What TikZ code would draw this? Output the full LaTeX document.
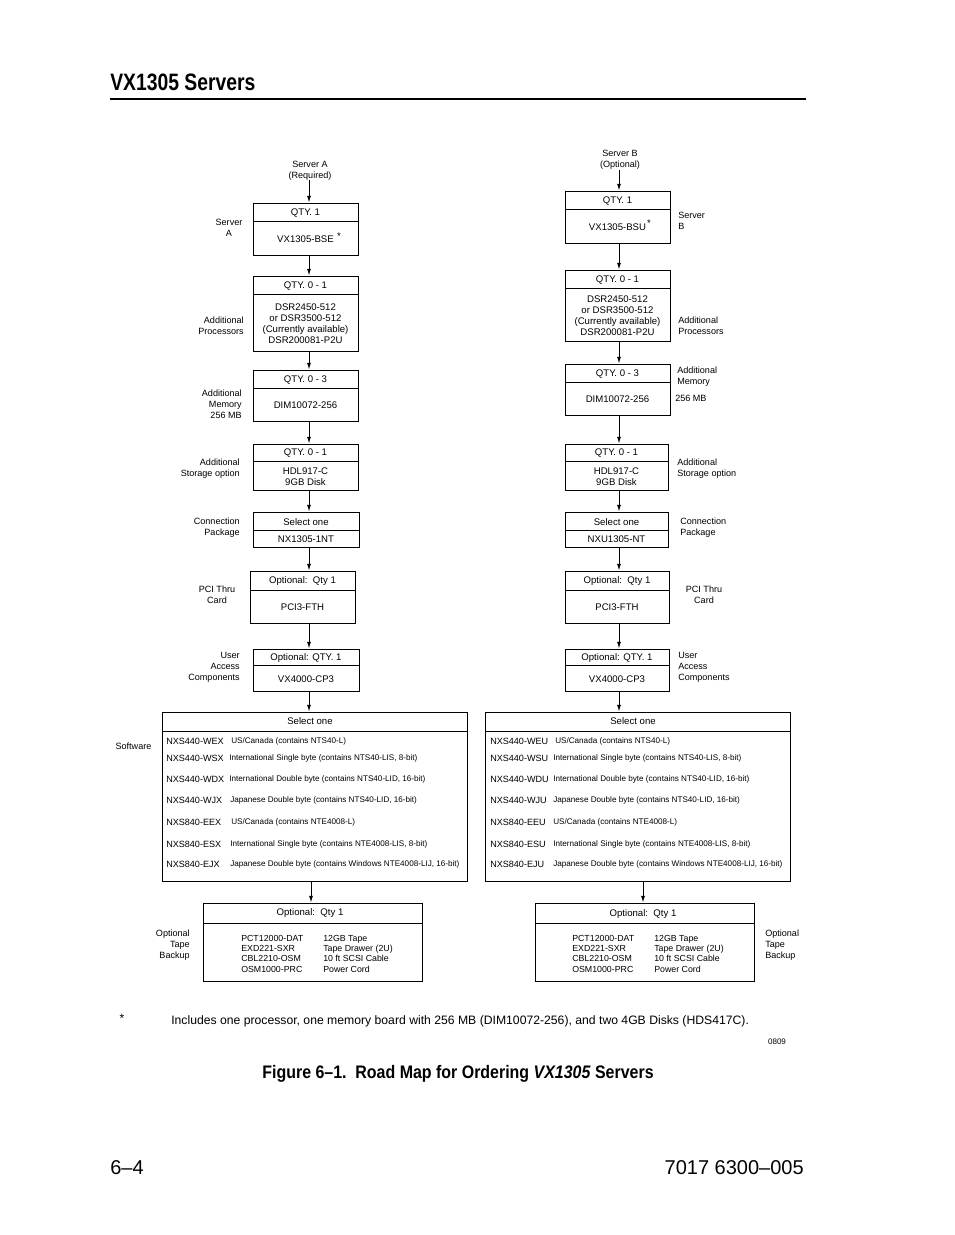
\documentclass[tikz,border=0pt]{standalone}
\usepackage{fontspec}
\setmainfont{Liberation Sans}
\newfontfamily\hdrfont[FakeStretch=0.815]{Liberation Sans}
\newfontfamily\capfont[FakeStretch=0.88]{Liberation Sans}
\newfontfamily\footfont[FakeStretch=1.0]{Liberation Sans}
\usetikzlibrary{arrows.meta,fit}

\tikzset{
  box/.style={draw, line width=0.7pt, inner sep=0pt},
  divl/.style={line width=0.55pt},
  btxt/.style={font=\fontsize{7.2}{8.25}\selectfont, align=center, inner sep=0pt},
  lbl/.style={font=\fontsize{6.8}{8.25}\selectfont, inner sep=0pt},
  code/.style={font=\fontsize{6.8}{8}\selectfont, anchor=west, inner sep=0pt},
  desc/.style={font=\fontsize{6.1}{7}\selectfont, anchor=west, inner sep=0pt},
  tape/.style={font=\fontsize{6.6}{7.75}\selectfont, anchor=west, inner sep=0pt, align=left},
  arr/.style={-{Latex[length=5pt,width=3pt]}, line width=0.7pt},
}

% name, x1, y1, x2, y2, ydiv, top text, bottom text
\newcommand\tbox[8]{%
  \node[box, fit={(#2,#3) (#4,#5)}] (#1) {};
  \draw[divl] (#2,#6) -- (#4,#6);
  \node[btxt] (#1t) at ({(#2+#4)/2},{(#3+#6)/2+0.8}) {#7};
  \node[btxt] (#1b) at ({(#2+#4)/2},{(#6+#5)/2+0.8}) {#8};
}
% name, x code, x desc, y, code, description
\newcommand\swrow[6]{%
  \node[code] (#1c) at (#2,#4) {#5};
  \node[desc] (#1d) at (#3,#4) {#6};
}

\begin{document}
\begin{tikzpicture}[x=0.75pt,y=-0.75pt]
\useasboundingbox (0,0) rectangle (954,1235);
\fill[white] (0,0) rectangle (954,1235);

% header
\node[anchor=base west, inner sep=0pt, font=\hdrfont\bfseries\fontsize{17.8}{20}\selectfont] (title) at (110,90) {VX1305 Servers};
\coordinate (r1) at (110,99);
\coordinate (r2) at (806,99);
\draw[line width=1.1pt] (r1) -- (r2);

% column coordinates
\coordinate (colA) at (309,0);
\coordinate (colA2) at (311,0);
\coordinate (colB) at (619,0);
\coordinate (colB2) at (643,0);

% ---------- left column (Server A) ----------
\node[lbl, align=center] (sAlab) at (310,170.5) {Server A\\(Required)};
\tbox{a1}{253}{203}{358}{255}{221}{QTY. 1}{VX1305-BSE}
\node[btxt] (a1s) at (339,236) {*};
\tbox{a2}{253}{276}{358}{351}{294}{QTY. 0 - 1}{DSR2450-512\\or DSR3500-512\\(Currently available)\\DSR200081-P2U}
\tbox{a3}{253}{370}{358}{421}{388}{QTY. 0 - 3}{DIM10072-256}
\tbox{a4}{253}{444}{358}{490}{461}{QTY. 0 - 1}{HDL917-C\\9GB Disk}
\tbox{a5}{253}{512}{359}{547}{530}{Select one}{NX1305-1NT}
\tbox{a6}{250}{571}{355}{623}{590}{Optional:\ \ Qty 1}{PCI3-FTH}
\tbox{a7}{253}{649}{359}{691}{665}{Optional: QTY. 1}{VX4000-CP3}

\node[box, fit={(162,712) (467,881)}] (sa) {};
\draw[divl] (162,731) -- (467,731);
\node[btxt] (sat) at (310,721) {Select one};
\swrow{sa1}{166}{231}{741}{NXS440-WEX}{US/Canada (contains NTS40-L)}
\swrow{sa2}{166}{229}{758.5}{NXS440-WSX}{International Single byte (contains NTS40-LIS, 8-bit)}
\swrow{sa3}{166}{229}{779}{NXS440-WDX}{International Double byte (contains NTS40-LID, 16-bit)}
\swrow{sa4}{166}{230}{800}{NXS440-WJX}{Japanese Double byte (contains NTS40-LID, 16-bit)}
\swrow{sa5}{166}{231}{822}{NXS840-EEX}{US/Canada (contains NTE4008-L)}
\swrow{sa6}{166}{230}{844}{NXS840-ESX}{International Single byte (contains NTE4008-LIS, 8-bit)}
\swrow{sa7}{166}{230}{864.5}{NXS840-EJX}{Japanese Double byte (contains Windows NTE4008-LIJ, 16-bit)}

\node[box, fit={(203,903) (422,981)}] (ta) {};
\draw[divl] (203,923) -- (422,923);
\node[btxt] (tat) at (310,913.5) {Optional:\ \ Qty 1};
\node[tape] (tac) at (241,953.5) {PCT12000-DAT\\EXD221-SXR\\CBL2210-OSM\\OSM1000-PRC};
\node[tape] (tad) at (323,953.5) {12GB Tape\\Tape Drawer (2U)\\10 ft SCSI Cable\\Power Cord};

% left labels
\node[lbl, align=center] (lA1) at (229,227.5) {Server\\A};
\node[lbl, align=right, anchor=east] (lA2) at (244,325.5) {Additional\\Processors};
\node[lbl, align=right, anchor=east] (lA3) at (242,404) {Additional\\Memory\\256 MB};
\node[lbl, align=right, anchor=east] (lA4) at (240,468.5) {Additional\\Storage option};
\node[lbl, align=right, anchor=east] (lA5) at (240,527.5) {Connection\\Package};
\node[lbl, align=center] (lA6) at (217,594.5) {PCI Thru\\Card};
\node[lbl, align=right, anchor=east] (lA7) at (240,667) {User\\Access\\Components};
\node[lbl] (lA8) at (133.5,746) {Software};
\node[lbl, align=right, anchor=east] (lA9) at (190,945) {Optional\\Tape\\Backup};

% left arrows
\draw[arr] (sAlab.south -| colA) -- (a1.north -| colA);
\foreach \u/\v in {a1/a2, a2/a3, a3/a4, a4/a5, a5/a6, a6/a7, a7/sa}
  \draw[arr] (\u.south -| colA) -- (\v.north -| colA);
\draw[arr] (sa.south -| colA2) -- (ta.north -| colA2);

% ---------- right column (Server B) ----------
\node[lbl, align=center] (sBlab) at (620,160) {Server B\\(Optional)};
\tbox{b1}{565}{191}{670}{243}{209}{QTY. 1}{VX1305-BSU}
\node[btxt] (b1s) at (649,223) {*};
\tbox{b2}{565}{270}{670}{341}{288}{QTY. 0 - 1}{DSR2450-512\\or DSR3500-512\\(Currently available)\\DSR200081-P2U}
\tbox{b3}{565}{364}{670}{415}{382}{QTY. 0 - 3}{DIM10072-256}
\tbox{b4}{565}{444}{668}{490}{461}{QTY. 0 - 1}{HDL917-C\\9GB Disk}
\tbox{b5}{565}{512}{668}{547}{530}{Select one}{NXU1305-NT}
\tbox{b6}{565}{571}{669}{623}{590}{Optional:\ \ Qty 1}{PCI3-FTH}
\tbox{b7}{565}{649}{669}{691}{665}{Optional: QTY. 1}{VX4000-CP3}

\node[box, fit={(485,712) (790,881)}] (sb) {};
\draw[divl] (485,731) -- (790,731);
\node[btxt] (sbt) at (633,721) {Select one};
\swrow{sb1}{490}{555}{741}{NXS440-WEU}{US/Canada (contains NTS40-L)}
\swrow{sb2}{490}{553}{758.5}{NXS440-WSU}{International Single byte (contains NTS40-LIS, 8-bit)}
\swrow{sb3}{490}{553}{779}{NXS440-WDU}{International Double byte (contains NTS40-LID, 16-bit)}
\swrow{sb4}{490}{553}{800}{NXS440-WJU}{Japanese Double byte (contains NTS40-LID, 16-bit)}
\swrow{sb5}{490}{553}{822}{NXS840-EEU}{US/Canada (contains NTE4008-L)}
\swrow{sb6}{490}{553}{844}{NXS840-ESU}{International Single byte (contains NTE4008-LIS, 8-bit)}
\swrow{sb7}{490}{553}{864.5}{NXS840-EJU}{Japanese Double byte (contains Windows NTE4008-LIJ, 16-bit)}

\node[box, fit={(535,903) (754,981)}] (tb) {};
\draw[divl] (535,923) -- (754,923);
\node[btxt] (tbt) at (643,914.5) {Optional:\ \ Qty 1};
\node[tape] (tbc) at (572,953.5) {PCT12000-DAT\\EXD221-SXR\\CBL2210-OSM\\OSM1000-PRC};
\node[tape] (tbd) at (654,953.5) {12GB Tape\\Tape Drawer (2U)\\10 ft SCSI Cable\\Power Cord};

% right labels
\node[lbl, align=left, anchor=west] (lB1) at (678,220.5) {Server\\B};
\node[lbl, align=left, anchor=west] (lB2) at (678,325.5) {Additional\\Processors};
\node[lbl, align=left, anchor=west] (lB3) at (677,376.5) {Additional\\Memory};
\node[lbl, anchor=west] (lB3b) at (675,398) {256 MB};
\node[lbl, align=left, anchor=west] (lB4) at (677,468.5) {Additional\\Storage option};
\node[lbl, align=left, anchor=west] (lB5) at (680,527.5) {Connection\\Package};
\node[lbl, align=center] (lB6) at (704,594.5) {PCI Thru\\Card};
\node[lbl, align=left, anchor=west] (lB7) at (678,667) {User\\Access\\Components};
\node[lbl, align=left, anchor=west] (lB9) at (765,945.5) {Optional\\Tape\\Backup};

% right arrows
\draw[arr] (sBlab.south -| colB) -- (b1.north -| colB);
\foreach \u/\v in {b1/b2, b2/b3, b3/b4, b4/b5, b5/b6, b6/b7, b7/sb}
  \draw[arr] (\u.south -| colB) -- (\v.north -| colB);
\draw[arr] (sb.south -| colB2) -- (tb.north -| colB2);

% footnote
\node[inner sep=0pt, font=\fontsize{9}{10}\selectfont] (fstar) at (122,1018) {*};
\node[anchor=west, inner sep=0pt, font=\fontsize{9.15}{10}\selectfont] (fnote) at (171,1021) {Includes one processor, one memory board with 256 MB (DIM10072-256), and two 4GB Disks (HDS417C).};
\node[inner sep=0pt, font=\fontsize{6}{7}\selectfont] (fig) at (777,1042) {0809};

% caption
\node[anchor=base, inner sep=0pt, font=\capfont\bfseries\fontsize{13.6}{15}\selectfont] (cap) at (458,1078) {Figure 6–1.\ \ Road Map for Ordering \textit{VX1305} Servers};

% footer
\node[anchor=base west, inner sep=0pt, font=\footfont\fontsize{15}{16}\selectfont] (pg) at (110,1174) {6–4};
\node[anchor=base east, inner sep=0pt, font=\footfont\fontsize{15}{16}\selectfont] (doc) at (804,1174) {7017 6300–005};
\end{tikzpicture}
\end{document}
